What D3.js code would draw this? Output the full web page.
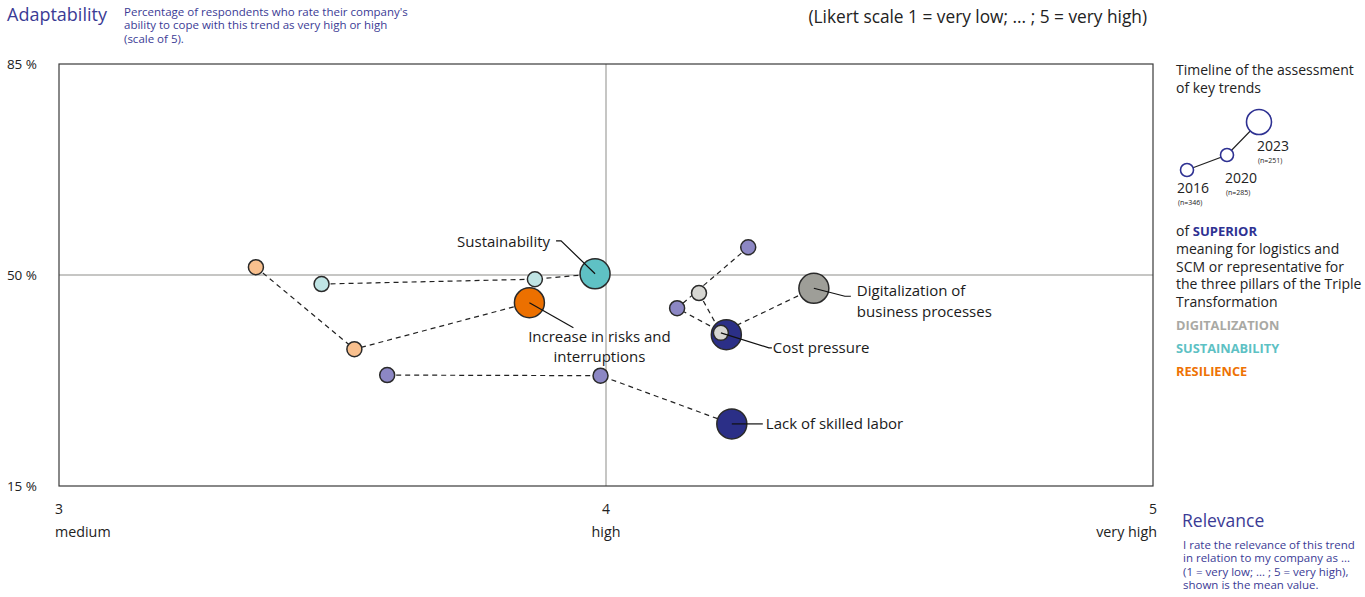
<!DOCTYPE html>
<html>
<head>
<meta charset="utf-8">
<script src="https://cdn.jsdelivr.net/npm/d3@7"></script>
<style>
  body { margin: 0; background: #fff; }
  svg { font-family: "Open Sans", Lato, sans-serif; }
</style>
</head>
<body>
<div id="chart"></div>
<script>
// trends and the pillar they belong to
const trends = ["Lack of skilled labor", "Cost pressure", "Digitalization of business processes", "Sustainability", "Increase in risks and interruptions"];
const pillars = ["superior", "superior", "digitalization", "sustainability", "resilience"];
const years = ["2016", "2020", "2023"];
const sampleSizes = ["(n=346)", "(n=285)", "(n=251)"];

// relevance (mean, x) and adaptability (% high/very high, y) per year
const relevance2016 = [3.60, 4.26, 4.17, 3.48, 3.36];
const relevance2020 = [3.99, 4.13, 4.21, 3.87, 3.54];
const relevance2023 = [4.23, 4.22, 4.38, 3.98, 3.86];
const adapt2016 = [33.4, 54.6, 47.0, 48.5, 51.3];
const adapt2020 = [33.3, 44.5, 40.4, 49.3, 37.7];
const adapt2023 = [25.3, 40.1, 47.8, 50.2, 45.4];

const xTicks = [3, 4, 5];
const xTickNames = ["medium", "high", "very high"];
const yTicks = [15, 50, 85];

const colLight = {superior: "#8c87c4", digitalization: "#d6d6d2", sustainability: "#bfe4e4", resilience: "#f9c08e"};
const colDark = {superior: "#2b2f87", digitalization: "#9e9e98", sustainability: "#5fc1c4", resilience: "#ec7000"};
const navyText = "#3b3b95";

const W = 1365, H = 597;
const margin = {top: 64, right: 212, bottom: 111, left: 59};
const width = W - margin.left - margin.right;
const height = H - margin.top - margin.bottom;

const svg = d3.select("#chart").append("svg")
    .attr("width", W).attr("height", H);

const g = svg.append("g")
    .attr("transform", `translate(${margin.left},${margin.top})`);

const x = d3.scaleLinear().domain([3, 5]).range([0, width]);
const y = d3.scaleLinear().domain([15, 85]).range([height, 0]);

// mid gridlines
g.append("line")
    .attr("x1", x(4)).attr("x2", x(4)).attr("y1", 0).attr("y2", height)
    .attr("stroke", "#b3b3b0").attr("stroke-width", 1.5);
g.append("line")
    .attr("x1", 0).attr("x2", width).attr("y1", y(50)).attr("y2", y(50))
    .attr("stroke", "#b3b3b0").attr("stroke-width", 1.5);

// frame
g.append("rect")
    .attr("width", width).attr("height", height)
    .attr("fill", "none").attr("stroke", "#3a3a3a").attr("stroke-width", 1.2);

// y axis labels
const yAxis = g.append("g")
    .call(d3.axisLeft(y).tickValues(yTicks).tickSize(0).tickPadding(22).tickFormat(d => d + " %"));
yAxis.select(".domain").remove();
yAxis.selectAll("text").attr("font-size", 13.5).attr("fill", "#222").style("font-family", "'Open Sans', sans-serif");

// x axis labels
xTicks.forEach((t, i) => {
  const anchor = i === 0 ? "start" : i === xTicks.length - 1 ? "end" : "middle";
  const shift = i === 0 ? -4 : i === xTicks.length - 1 ? 4 : 0;
  g.append("text")
      .attr("x", x(t)).attr("y", height + 28)
      .attr("text-anchor", "middle")
      .attr("font-size", 14).attr("fill", "#222")
      .text(t);
  g.append("text")
      .attr("x", x(t) + shift).attr("y", height + 51)
      .attr("text-anchor", anchor)
      .attr("font-size", 14.3).attr("fill", "#222")
      .text(xTickNames[i]);
});

// series
const series = trends.map((name, i) => ({
  name: name,
  pillar: pillars[i],
  points: [
    {year: 0, rel: relevance2016[i], ad: adapt2016[i]},
    {year: 1, rel: relevance2020[i], ad: adapt2020[i]},
    {year: 2, rel: relevance2023[i], ad: adapt2023[i]}
  ]
}));

const line = d3.line().x(d => x(d.rel)).y(d => y(d.ad));

g.selectAll(".trail")
  .data(series)
  .join("path")
    .attr("class", "trail")
    .attr("d", d => line(d.points))
    .attr("fill", "none")
    .attr("stroke", "#222")
    .attr("stroke-width", 1.2)
    .attr("stroke-dasharray", "5,4");

const radius = [7.5, 7.5, 15];

g.selectAll(".dots")
  .data(series)
  .join("g")
    .attr("class", "dots")
  .selectAll("circle")
  .data(d => d.points.map(p => ({...p, pillar: d.pillar})))
  .join("circle")
    .attr("cx", d => x(d.rel))
    .attr("cy", d => y(d.ad))
    .attr("r", d => radius[d.year])
    .attr("fill", d => d.year === 2 ? colDark[d.pillar] : colLight[d.pillar])
    .attr("stroke", "#2a2a2a")
    .attr("stroke-width", 1.5);

// annotations: leader from a point to a label offset
const labels = [
  {i: 2, yr: 2, path: [[31, 8], [37, 8]], lines: ["Digitalization of", "business processes"], tx: 43, ty: 8, anchor: "start"},
  {i: 2, yr: 1, path: [[48, 15], [51, 15]], lines: ["Cost pressure"], tx: 52, ty: 20, anchor: "start"},
  {i: 0, yr: 2, path: [[31, 0]], lines: ["Lack of skilled labor"], tx: 34, ty: 5, anchor: "start"},
  {i: 3, yr: 2, path: [[-34, -33], [-39, -33]], lines: ["Sustainability"], tx: -45, ty: -27, anchor: "end"},
  {i: 4, yr: 2, path: [[44, 25]], lines: ["Increase in risks and", "interruptions"], tx: 70, ty: 39, anchor: "middle"}
];

labels.forEach(l => {
  const p = series[l.i].points[l.yr];
  const cx = x(p.rel), cy = y(p.ad);
  const pts = [[cx, cy]].concat(l.path.map(q => [cx + q[0], cy + q[1]]));
  g.append("path")
      .attr("d", d3.line()(pts))
      .attr("fill", "none").attr("stroke", "#111").attr("stroke-width", 1.2);
  const t = g.append("text")
      .attr("x", cx + l.tx).attr("y", cy + l.ty)
      .attr("text-anchor", l.anchor)
      .attr("font-size", 15).attr("fill", "#1a1a1a");
  l.lines.forEach((s, k) => {
    t.append("tspan").attr("x", cx + l.tx).attr("dy", k === 0 ? 0 : 20.5).text(s);
  });
});

// header
svg.append("text").attr("x", 7).attr("y", 21)
    .attr("font-size", 18).attr("fill", navyText).text("Adaptability");
const sub = svg.append("text").attr("x", 124).attr("y", 16)
    .attr("font-size", 11.5).attr("fill", navyText);
["Percentage of respondents who rate their company's", "ability to cope with this trend as very high or high", "(scale of 5)."]
  .forEach((s, k) => sub.append("tspan").attr("x", 124).attr("dy", k === 0 ? 0 : 13.3).text(s));

svg.append("text").attr("x", 1147).attr("y", 23)
    .attr("text-anchor", "end")
    .attr("font-size", 17.3).attr("fill", "#222")
    .text("(Likert scale 1 = very low; ... ; 5 = very high)");

// right legend
const lg = svg.append("g").attr("transform", "translate(1176,0)");
const lt = lg.append("text").attr("y", 75).attr("font-size", 14).attr("fill", "#222");
["Timeline of the assessment", "of key trends"].forEach((s, k) =>
  lt.append("tspan").attr("x", 0).attr("dy", k === 0 ? 0 : 18).text(s));

const legPts = [[11, 170, 6.5], [51, 155, 6.5], [83, 122, 12.5]];
lg.append("path").attr("d", d3.line()(legPts.map(p => [p[0], p[1]])))
    .attr("fill", "none").attr("stroke", "#222").attr("stroke-width", 1.2);
lg.selectAll("circle.leg").data(legPts).join("circle")
    .attr("class", "leg")
    .attr("cx", d => d[0]).attr("cy", d => d[1]).attr("r", d => d[2])
    .attr("fill", "#fff").attr("stroke", "#2e3192").attr("stroke-width", 1.6);
const legLabelPos = [[1, 193], [49, 183], [81, 151]];
years.forEach((yr, k) => {
  lg.append("text").attr("x", legLabelPos[k][0]).attr("y", legLabelPos[k][1])
      .attr("font-size", 14).attr("fill", "#222").text(yr);
  lg.append("text").attr("x", legLabelPos[k][0] + 1).attr("y", legLabelPos[k][1] + 12)
      .attr("font-size", 7).attr("fill", "#222").text(sampleSizes[k]);
});

const sup = lg.append("text").attr("x", 0).attr("y", 236).attr("font-size", 14).attr("fill", "#222");
sup.append("tspan").text("of ");
sup.append("tspan").attr("font-weight", "bold").attr("fill", "#2e3192").attr("font-size", 13).text(" SUPERIOR");
const desc = lg.append("text").attr("y", 254).attr("font-size", 14).attr("fill", "#222");
["meaning for logistics and", "SCM or representative for", "the three pillars of the Triple", "Transformation"]
  .forEach((s, k) => desc.append("tspan").attr("x", 0).attr("dy", k === 0 ? 0 : 17.7).text(s));
[["DIGITALIZATION", "#a9a9a4"], ["SUSTAINABILITY", "#5dc1c4"], ["RESILIENCE", "#ee7203"]].forEach((d, k) => {
  lg.append("text").attr("x", 0).attr("y", 330 + k * 23)
      .attr("font-size", 12.8).attr("font-weight", "bold").attr("fill", d[1]).text(d[0]);
});

// relevance note
svg.append("text").attr("x", 1182).attr("y", 527)
    .attr("font-size", 17.5).attr("fill", navyText).text("Relevance");
const rel = svg.append("text").attr("y", 549).attr("font-size", 11.5).attr("fill", navyText);
["I rate the relevance of this trend", "in relation to my company as ...", "(1 = very low; ... ; 5 = very high),", "shown is the mean value."]
  .forEach((s, k) => rel.append("tspan").attr("x", 1183).attr("dy", k === 0 ? 0 : 13.3).text(s));
</script>
</body>
</html>
